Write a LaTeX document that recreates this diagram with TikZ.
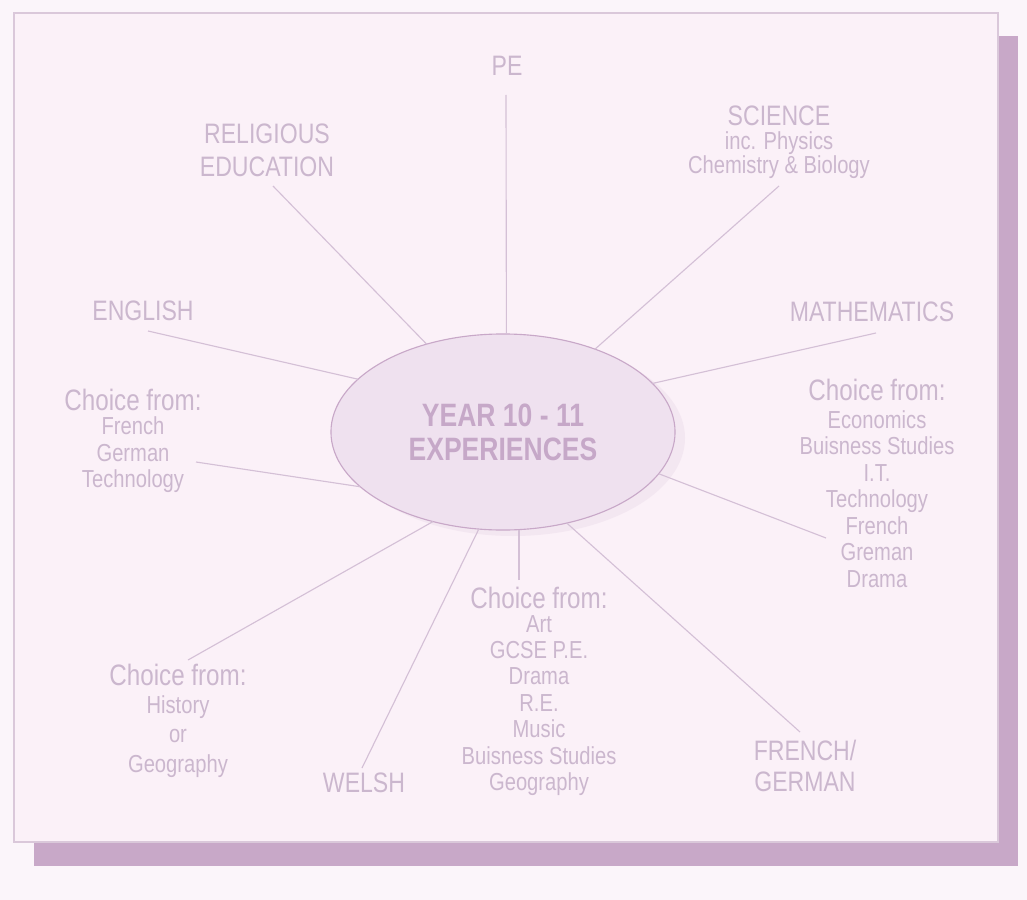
\documentclass[tikz,border=0pt]{standalone}
\usepackage{fontspec}
\setmainfont{Liberation Sans}[FakeStretch=0.82]
\usetikzlibrary{shapes.geometric}
\definecolor{paper}{HTML}{FBF5FA}
\definecolor{boxfill}{HTML}{FBF1F8}
\definecolor{boxline}{HTML}{DAC8DA}
\definecolor{shadowc}{HTML}{C8A8C8}
\definecolor{ink}{HTML}{CBB7CE}
\definecolor{centreink}{HTML}{C6A8C8}
\definecolor{linec}{HTML}{D4C0D6}
\definecolor{ovalfill}{HTML}{EFE1EF}
\begin{document}
\begin{tikzpicture}[x=0.025cm,y=-0.025cm,
  label/.style={text=ink,font=\fontsize{20}{23.4}\selectfont,align=center,inner sep=0pt},
  item/.style={text=ink,font=\fontsize{17.5}{18.8}\selectfont,align=center,inner sep=0pt},
  choice/.style={text=ink,font=\fontsize{21}{24}\selectfont,inner sep=0pt},
  spoke/.style={draw=linec,line width=0.8pt}]
\useasboundingbox[fill=paper] (0,0) rectangle (1027,900);
% frame with its shadow
\fill[shadowc] (34,36) rectangle (1018,866);
\draw[boxline,fill=boxfill,line width=0.8pt] (14,13) rectangle (998,842);
% centre
\fill[ovalfill!70!shadowc,opacity=0.3] (513,438) ellipse (172 and 98);
\node[ellipse,draw=shadowc,fill=ovalfill,line width=0.8pt,minimum width=8.6cm,minimum height=4.9cm,
  outer sep=0pt,inner sep=0pt,text=centreink,font=\bfseries\fontsize{23}{24}\selectfont,align=center]
  (year) at (503,432) {YEAR 10 - 11\\EXPERIENCES};
% subjects
\node[label] (pe) at (507,66) {PE};
\node[label] (relig) at (267,150) {RELIGIOUS\\EDUCATION};
\node[label] (science) at (779,116) {SCIENCE};
\node[item,font=\fontsize{17.5}{17}\selectfont] (scisub) at (779,155) {inc. Physics\\Chemistry \& Biology};
\node[label] (english) at (143,311) {ENGLISH};
\node[label] (maths) at (872,312) {MATHEMATICS};
\node[choice] (lchoice) at (133,400) {Choice from:};
\node[item] (llist) at (133,455) {French\\German\\Technology};
\node[choice] (rchoice) at (877,390) {Choice from:};
\node[item] (rlist) at (877,499) {Economics\\Buisness Studies\\I.T.\\Technology\\French\\Greman\\Drama};
\node[choice] (bchoice) at (539,598) {Choice from:};
\node[item] (blist) at (539,705.5) {Art\\GCSE P.E.\\Drama\\R.E.\\Music\\Buisness Studies\\Geography};
\node[choice] (dchoice) at (178,675) {Choice from:};
\node[item,font=\fontsize{17.5}{20.9}\selectfont] (dlist) at (178,736.5) {History\\or\\Geography};
\node[label] (welsh) at (364,783) {WELSH};
\node[label,font=\fontsize{20}{22}\selectfont] (french) at (805,766) {FRENCH/\\GERMAN};
% spokes
\coordinate (c-pe) at (506,95);
\coordinate (c-re) at (273,186);
\coordinate (c-sc) at (779,186);
\coordinate (c-en) at (148,331);
\coordinate (c-ma) at (876,333);
\coordinate (c-lc) at (196,462);
\coordinate (c-rc) at (826,538);
\coordinate (c-dc) at (188,660);
\coordinate (c-we) at (362,768);
\coordinate (c-bc) at (519,580);
\coordinate (c-fg) at (800,732);
\draw[spoke] (c-pe) -- (year.88);
\draw[spoke] (c-re) -- (year.131);
\draw[spoke] (c-sc) -- (year.42);
\draw[spoke] (c-en) -- (year.160);
\draw[spoke] (c-ma) -- (year.18);
\draw[spoke] (c-lc) -- (year.201);
\draw[spoke] (c-rc) -- (year.345);
\draw[spoke] (c-dc) -- (year.232);
\draw[spoke] (c-we) -- (year.256);
\draw[spoke] (c-bc) -- (year.south -| c-bc);
\draw[spoke] (c-fg) -- (year.305);
\end{tikzpicture}
\end{document}
